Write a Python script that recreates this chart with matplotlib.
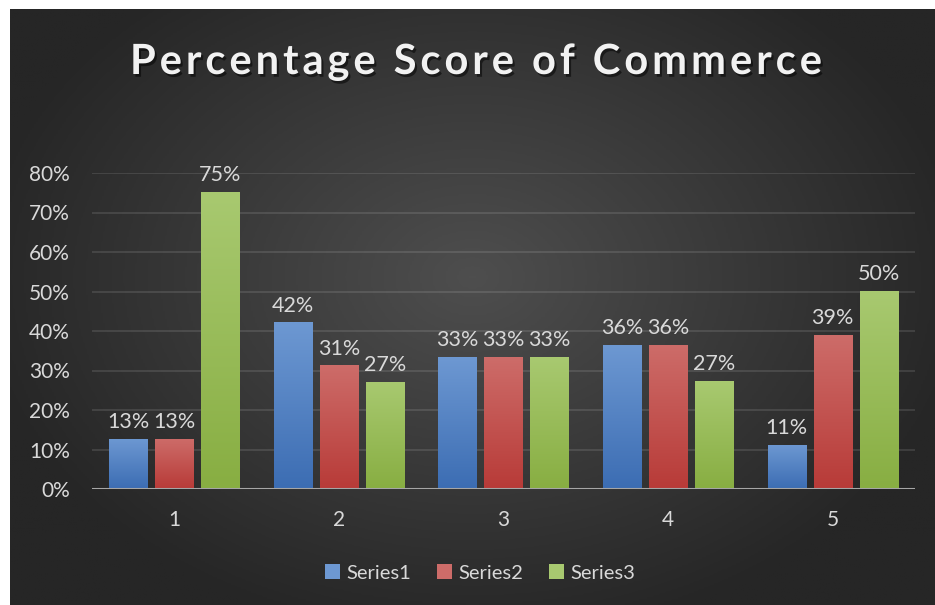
import numpy as np
import matplotlib
matplotlib.use("Agg")
import matplotlib.pyplot as plt
from matplotlib.colors import LinearSegmentedColormap
from matplotlib.patches import Patch
import matplotlib.patheffects as pe

plt.rcParams["font.family"] = ["Lato", "DejaVu Sans"]

categories = ["1", "2", "3", "4", "5"]
series_names = ["Series1", "Series2", "Series3"]
series1 = [0.127, 0.422, 0.334, 0.365, 0.112]
series2 = [0.127, 0.313, 0.334, 0.365, 0.390]
series3 = [0.752, 0.271, 0.334, 0.273, 0.501]
y_ticks = [0, 0.1, 0.2, 0.3, 0.4, 0.5, 0.6, 0.7, 0.8]
title = "Percentage Score of Commerce"

# top / bottom colours of each series gradient
grad_colors = [("#6d98d2", "#3c6db3"), ("#cd6c69", "#b83b38"), ("#a8c970", "#88ae42")]
text_col = "#d9d9d9"

W, H = 935, 605
fig = plt.figure(figsize=(W / 100, H / 100), dpi=100, facecolor="white")

# dark radial background
bg = fig.add_axes([10 / W, 0, 1 - 10 / W, 1 - 9 / H], zorder=-5)
yy, xx = np.mgrid[0:1:300j, 0:1:460j]
r = np.sqrt(((xx - 0.5) / 0.75) ** 2 + ((yy - 0.55) / 0.85) ** 2)
r = np.clip(r / 0.72, 0, 1)
bg_cmap = LinearSegmentedColormap.from_list("bg", ["#4e4e4e", "#262626"])
bg.imshow(r, cmap=bg_cmap, aspect="auto", extent=[0, 1, 0, 1], origin="lower")
bg.set_axis_off()

ax = fig.add_axes([92 / W, 1 - 489 / H, (915 - 92) / W, (489 - 173) / H])
ax.patch.set_alpha(0)

x = np.arange(len(categories))
width = 0.232
offsets = [-0.28, 0, 0.28]
grad = np.linspace(1, 0, 100).reshape(-1, 1)

for i, vals in enumerate([series1, series2, series3]):
    bars = ax.bar(x + offsets[i], vals, width, color=grad_colors[i][1], zorder=2)
    cm = LinearSegmentedColormap.from_list("g%d" % i, [grad_colors[i][1], grad_colors[i][0]])
    for b, v in zip(bars, vals):
        x0, y0 = b.get_x(), b.get_y()
        im = ax.imshow(grad, cmap=cm, aspect="auto", origin="upper",
                       extent=[x0, x0 + b.get_width(), y0, y0 + b.get_height()], zorder=3)
        im.set_clip_path(b)
        ax.text(b.get_x() + b.get_width() / 2, v + 0.017, f"{v:.0%}", ha="center", va="bottom",
                color=text_col, fontsize=15.5, zorder=4)

ax.set_xlim(-0.5, len(categories) - 0.5)
ax.set_ylim(0, 0.8)
ax.set_yticks(y_ticks)
ax.set_yticklabels([f"{t:.0%}" for t in y_ticks])
ax.set_xticks(x)
ax.set_xticklabels(categories)
ax.tick_params(axis="both", length=0, colors=text_col, labelsize=15)
ax.tick_params(axis="y", pad=16)
ax.tick_params(axis="x", pad=15)
for s in ax.spines.values():
    s.set_visible(False)
ax.grid(axis="y", color="white", alpha=0.12, linewidth=1.3, zorder=0)
ax.set_axisbelow(True)
ax.axhline(0, color="#a6a6a6", linewidth=2.2, zorder=5)

handles = [Patch(facecolor=grad_colors[i][0], edgecolor="none", label=series_names[i]) for i in range(3)]
fig.legend(handles=handles, loc="center", bbox_to_anchor=(480 / W, 1 - 573 / H), ncol=3,
           frameon=False, fontsize=14.5, labelcolor=text_col, handlelength=0.75, handleheight=0.75,
           handletextpad=0.3, columnspacing=1.3)

# title with letter spacing: place characters one by one
renderer = fig.canvas.get_renderer()
shadow = [pe.withSimplePatchShadow(offset=(1.5, -2), shadow_rgbFace="black", alpha=0.5)]
chars = []
for ch in title:
    t = fig.text(0, 1 - 62 / H, ch, ha="left", va="center", fontsize=30, fontweight="bold",
                 color="#f2f2f2", path_effects=shadow)
    chars.append(t)
ref = fig.text(0, 0, title, fontsize=30, fontweight="bold")
base_w = ref.get_window_extent(renderer).width
ref.remove()
target_w = 822 - 130
spacing = (target_w - base_w) / (len(title) - 1)
# use whole-string advance for kerning-free widths
widths = [c.get_window_extent(renderer).width if c.get_text() != " " else 0 for c in chars]
space_w = (base_w - sum(widths)) / max(1, title.count(" "))
xpos = 130.0
for c, w in zip(chars, widths):
    c.set_x(xpos / W)
    xpos += (w if c.get_text() != " " else space_w) + spacing

fig.savefig("out.png", dpi=100, facecolor=fig.get_facecolor())
